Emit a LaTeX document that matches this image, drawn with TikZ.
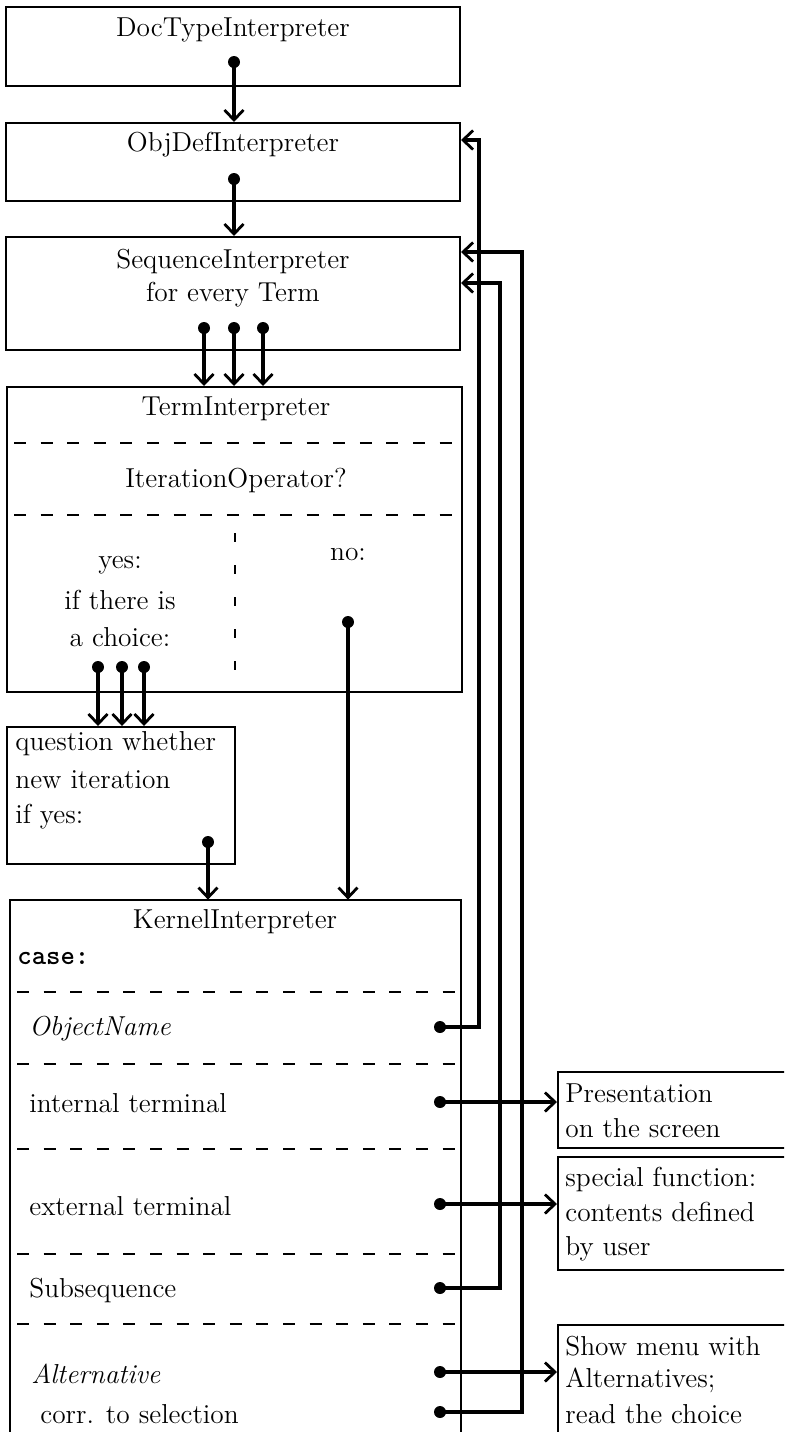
\documentclass[tikz,border=0pt]{standalone}
\usetikzlibrary{arrows.meta,fit}
\begin{document}
\begin{tikzpicture}[x=0.5pt,y=-0.5pt,
  box/.style={draw,line width=1pt,inner sep=0pt,rectangle},
  sep/.style={line width=1pt,dash pattern=on 6pt off 7.3pt},
  vsep/.style={line width=1pt,dash pattern=on 4.5pt off 11.5pt},
  conn/.style={line width=1.7pt,-{Straight Barb[length=5pt,width=9.5pt,line width=1.4pt]}},
  dot/.style={circle,fill,inner sep=0pt,minimum size=6pt},
  lbl/.style={inner sep=0pt,font=\fontsize{13.7}{16}\selectfont},
  lbll/.style={lbl,anchor=west}]
\clip (0,0) rectangle (784,1432);
\fill[white] (0,0) rectangle (784,1432);

% ---- interpreter boxes ----
\node[box,fit={(6,7) (460,86)}] (doc) {};
\node[lbl] (tdoc) at (233,30) {DocTypeInterpreter};

\node[box,fit={(6,123) (460,201)}] (obj) {};
\node[lbl] (tobj) at (233,145) {ObjDefInterpreter};

\node[box,fit={(6,237) (460,350)}] (seq) {};
\node[lbl] (tseq1) at (233,262) {SequenceInterpreter};
\node[lbl] (tseq2) at (233,295) {for every Term};

\node[box,fit={(7,387) (462,692)}] (term) {};
\node[lbl] (tterm) at (236,409) {TermInterpreter};
\draw[sep] (14,443) -- (458,443);
\node[lbl] (titer) at (236,481) {IterationOperator?};
\draw[sep] (14,515) -- (458,515);
\draw[vsep] (235,533) -- (235,670);
\node[lbl] (tyes1) at (120,565) {yes:};
\node[lbl] (tyes2) at (120,600) {if there is};
\node[lbl] (tyes3) at (120,637) {a choice:};
\node[lbl] (tno) at (348,555) {no:};

\node[box,fit={(7,727) (235,864)}] (quest) {};
\node[lbll] (tq1) at (15,744) {question whether};
\node[lbll] (tq2) at (15,780) {new iteration};
\node[lbll] (tq3) at (15,817) {if yes:};

% kernel box, open towards the bottom
\node[inner sep=0pt,fit={(10,900) (461,1450)}] (kern) {};
\draw[line width=1pt] (kern.south west) -- (kern.north west) -- (kern.north east) -- (kern.south east);
\node[lbl] (tkern) at (235,922) {KernelInterpreter};
\node[lbll] (tcase) at (17,958) {\ttfamily\bfseries case:};
\draw[sep] (17,992) -- (458,992);
\node[lbll] (tobjn) at (29,1029) {\itshape ObjectName};
\draw[sep] (17,1064) -- (458,1064);
\node[lbll] (tint) at (29,1103) {internal terminal};
\draw[sep] (17,1149) -- (458,1149);
\node[lbll] (text) at (29,1206) {external terminal};
\draw[sep] (17,1254) -- (458,1254);
\node[lbll] (tsub) at (29,1290) {Subsequence};
\draw[sep] (17,1324) -- (458,1324);
\node[lbll] (talt) at (31,1374) {\itshape Alternative};
\node[lbll] (tcorr) at (40,1414) {corr. to selection};

% ---- output boxes on the right ----
\node[box,fit={(558,1072) (800,1148)}] (pres) {};
\node[lbll] (tp1) at (565,1093) {Presentation};
\node[lbll] (tp2) at (565,1128) {on the screen};

\node[box,fit={(558,1157) (800,1270)}] (spec) {};
\node[lbll] (ts1) at (565,1179) {special function:};
\node[lbll] (ts2) at (565,1212) {contents defined};
\node[lbll] (ts3) at (565,1249) {by user};

\node[box,fit={(558,1325) (800,1450)}] (menu) {};
\node[lbll] (tm1) at (565,1346) {Show menu with};
\node[lbll] (tm2) at (565,1380) {Alternatives;};
\node[lbll] (tm3) at (565,1414) {read the choice};

% ---- call dots ----
\node[dot] (d1) at (234,62) {};
\node[dot] (d2) at (234,179) {};
\node[dot] (d3a) at (204,328) {};
\node[dot] (d3b) at (234,328) {};
\node[dot] (d3c) at (263,328) {};
\node[dot] (d4a) at (98,667) {};
\node[dot] (d4b) at (122,667) {};
\node[dot] (d4c) at (144,667) {};
\node[dot] (d5) at (348,622) {};
\node[dot] (d6) at (208,842) {};
\node[dot] (kObj) at (440,1027) {};
\node[dot] (kInt) at (440,1102) {};
\node[dot] (kExt) at (440,1204) {};
\node[dot] (kSub) at (440,1288) {};
\node[dot] (kAlt) at (440,1372) {};
\node[dot] (kCorr) at (440,1412) {};

% bends of the return lines
\coordinate (rObj) at (479,140);
\coordinate (rSub) at (500,283);
\coordinate (rCorr) at (522,252);

% ---- downward calls ----
\draw[conn] (d1.center) -- (d1.center |- obj.north);
\draw[conn] (d2.center) -- (d2.center |- seq.north);
\foreach \d in {d3a,d3b,d3c}
  \draw[conn] (\d.center) -- (\d.center |- term.north);
\foreach \d in {d4a,d4b,d4c}
  \draw[conn] (\d.center) -- (\d.center |- quest.north);
\draw[conn] (d5.center) -- (d5.center |- kern.north);
\draw[conn] (d6.center) -- (d6.center |- kern.north);

% ---- returns to earlier interpreters ----
\draw[conn] (kObj.center) -| (rObj) -- (obj.east |- rObj);
\draw[conn] (kSub.center) -| (rSub) -- (seq.east |- rSub);
\draw[conn] (kCorr.center) -| (rCorr) -- (seq.east |- rCorr);

% ---- calls to the outside ----
\draw[conn] (kInt.center) -- (pres.west |- kInt.center);
\draw[conn] (kExt.center) -- (spec.west |- kExt.center);
\draw[conn] (kAlt.center) -- (menu.west |- kAlt.center);
\end{tikzpicture}
\end{document}
